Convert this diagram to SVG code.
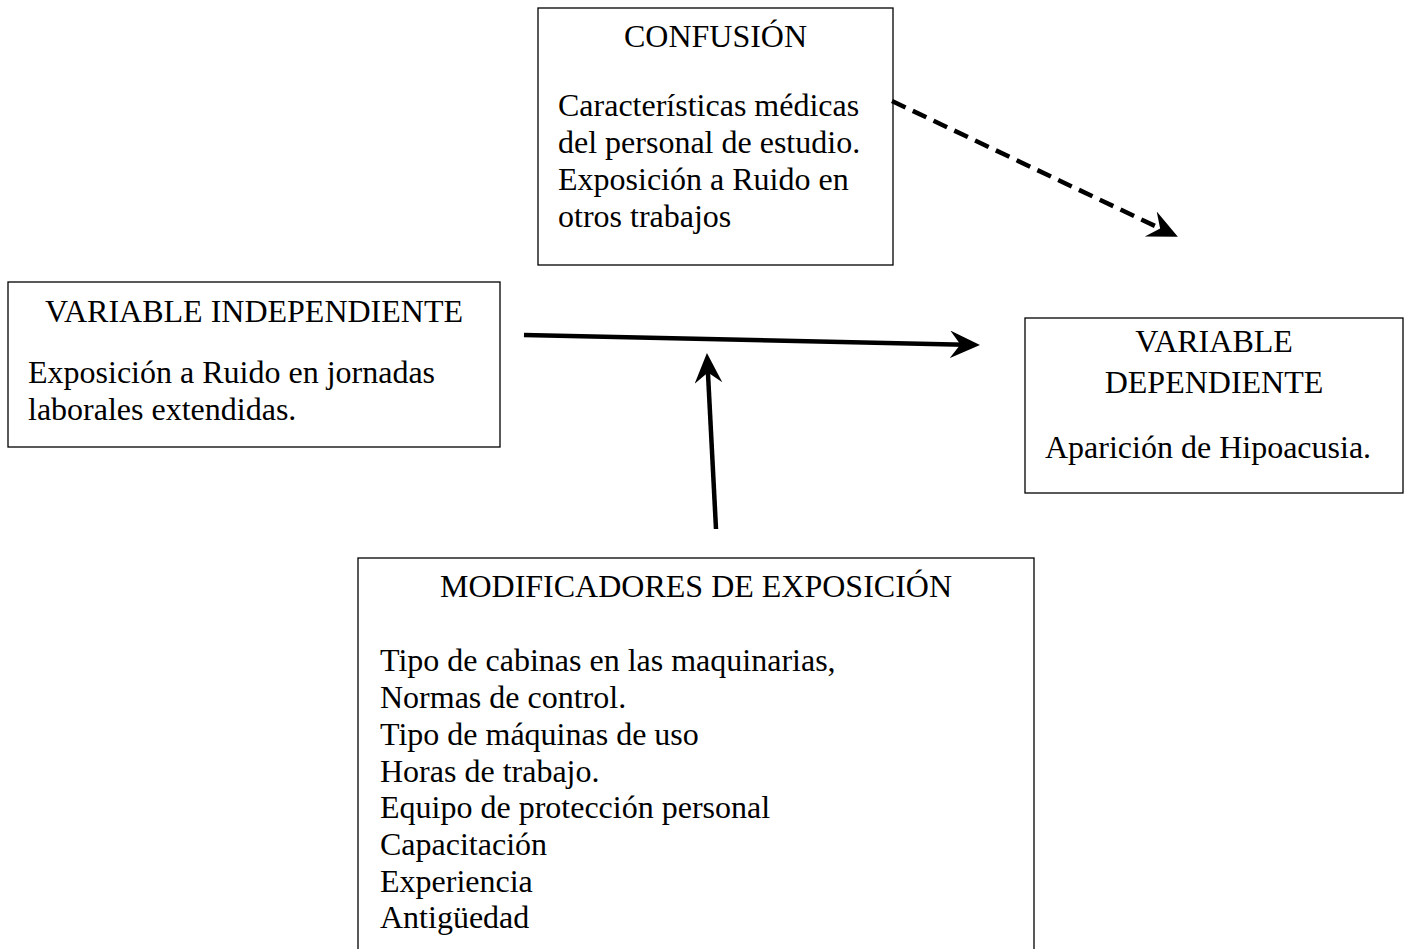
<svg xmlns="http://www.w3.org/2000/svg" width="1408" height="949" viewBox="0 0 1408 949">
<style>
.box{fill:#fff;stroke:#000;stroke-width:1.3}
.t{font-family:"Liberation Serif","Times New Roman",serif;font-size:32px;fill:#000}
.c{text-anchor:middle}
.conn{stroke:#000;stroke-width:4.5;fill:none}
.dash{stroke-dasharray:15 8}
</style>
<defs>
<marker id="ah" markerUnits="userSpaceOnUse" markerWidth="30" markerHeight="30" viewBox="0 0 26 26" refX="13" refY="12" orient="auto">
<path d="M0,0 L26,12 L0,24 L9,12 Z" fill="#000"/>
</marker>
</defs>
<rect width="1408" height="949" fill="#fff"/>
<g id="confusion">
<rect class="box" x="538" y="8" width="355" height="257"/>
<text class="t c" x="715.5" y="47">CONFUSIÓN</text>
<text class="t" x="558" y="116">Características médicas</text>
<text class="t" x="558" y="153">del personal de estudio.</text>
<text class="t" x="558" y="190">Exposición a Ruido en</text>
<text class="t" x="558" y="227">otros trabajos</text>
</g>
<g id="independiente">
<rect class="box" x="8" y="282" width="492" height="165"/>
<text class="t c" x="254" y="322">VARIABLE INDEPENDIENTE</text>
<text class="t" x="28" y="383">Exposición a Ruido en jornadas</text>
<text class="t" x="28" y="420">laborales extendidas.</text>
</g>
<g id="dependiente">
<rect class="box" x="1025" y="318" width="378" height="175"/>
<text class="t c" x="1214" y="352">VARIABLE</text>
<text class="t c" x="1214" y="393">DEPENDIENTE</text>
<text class="t" x="1045" y="458">Aparición de Hipoacusia.</text>
</g>
<g id="modificadores">
<rect class="box" x="358" y="558" width="676" height="420"/>
<text class="t c" x="696" y="597">MODIFICADORES DE EXPOSICIÓN</text>
<text class="t" x="380" y="671">Tipo de cabinas en las maquinarias,</text>
<text class="t" x="380" y="708">Normas de control.</text>
<text class="t" x="380" y="745">Tipo de máquinas de uso</text>
<text class="t" x="380" y="782">Horas de trabajo.</text>
<text class="t" x="380" y="818">Equipo de protección personal</text>
<text class="t" x="380" y="855">Capacitación</text>
<text class="t" x="380" y="892">Experiencia</text>
<text class="t" x="380" y="928">Antigüedad</text>
</g>
<g id="connectors">
<line class="conn" x1="524" y1="335" x2="965" y2="344.7" marker-end="url(#ah)"/>
<line class="conn" x1="716" y1="529" x2="707.7" y2="368" marker-end="url(#ah)"/>
<line class="conn dash" x1="892" y1="101" x2="1164.3" y2="230.4" marker-end="url(#ah)"/>
</g>
</svg>
